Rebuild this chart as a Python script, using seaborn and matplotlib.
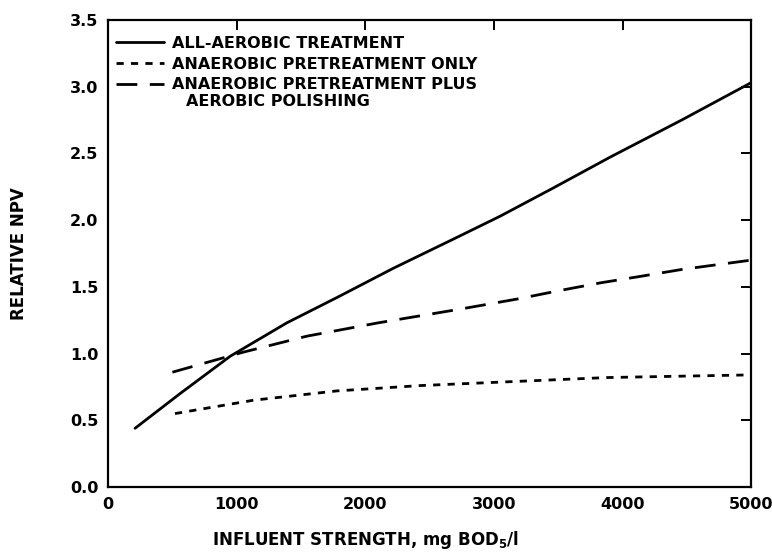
import pandas as pd
import seaborn as sns
import matplotlib.pyplot as plt

sns.set_theme(style="white")
plt.rcParams["font.family"] = ["DejaVu Sans"]
plt.rcParams["font.weight"] = "bold"
for key in ["text.color", "axes.labelcolor", "xtick.color", "ytick.color"]:
    plt.rcParams[key] = "black"

# values
aerobic_x = [210, 560, 950, 1390, 1780, 2220, 2690, 3050, 3460, 3900, 4460, 5000]
aerobic_y = [0.44, 0.70, 0.98, 1.23, 1.42, 1.64, 1.86, 2.03, 2.24, 2.47, 2.75, 3.03]

pre_only_x = [520, 1130, 1780, 2430, 3150, 3880, 5000]
pre_only_y = [0.55, 0.65, 0.72, 0.76, 0.79, 0.82, 0.84]

pre_polish_x = [500, 1050, 1545, 2100, 2720, 3190, 3500, 3830, 4150, 4460, 5000]
pre_polish_y = [0.86, 1.01, 1.13, 1.23, 1.33, 1.41, 1.47, 1.53, 1.58, 1.63, 1.70]

x_ticks = [0, 1000, 2000, 3000, 4000, 5000]
y_ticks = [0.0, 0.5, 1.0, 1.5, 2.0, 2.5, 3.0, 3.5]

df_aer = pd.DataFrame({"x": aerobic_x, "y": aerobic_y})
df_pre = pd.DataFrame({"x": pre_only_x, "y": pre_only_y})
df_pol = pd.DataFrame({"x": pre_polish_x, "y": pre_polish_y})

fig, ax = plt.subplots(figsize=(7.72, 5.54), dpi=100)
fig.subplots_adjust(left=0.14, right=0.973, bottom=0.121, top=0.964)

sns.lineplot(data=df_aer, x="x", y="y", ax=ax, color="black", linewidth=2,
             label="ALL-AEROBIC TREATMENT")
sns.lineplot(data=df_pre, x="x", y="y", ax=ax, color="black", linewidth=2,
             linestyle=(0, (2.6, 2.6)), label="ANAEROBIC PRETREATMENT ONLY")
sns.lineplot(data=df_pol, x="x", y="y", ax=ax, color="black", linewidth=2,
             linestyle=(0, (7.5, 4.5)), label="ANAEROBIC PRETREATMENT PLUS")

ax.set_xlim(0, 5000)
ax.set_ylim(0, 3.5)
ax.set_xticks(x_ticks)
ax.set_yticks(y_ticks)
ax.set_yticklabels([f"{v:.1f}" for v in y_ticks])
ax.tick_params(direction="in", length=7, width=1.4, top=True, right=True,
               labeltop=False, labelright=False, labelsize=11.5, pad=7,
               color="black", labelcolor="black")
for lab in ax.get_xticklabels() + ax.get_yticklabels():
    lab.set_fontweight("bold")
for sp in ax.spines.values():
    sp.set_linewidth(1.6)
    sp.set_color("black")

ax.set_xlabel(r"INFLUENT STRENGTH, mg BOD$_\mathbf{5}$/l", fontsize=12,
              fontweight="bold")
ax.set_ylabel("RELATIVE NPV", fontsize=12, fontweight="bold")
ax.xaxis.set_label_coords(0.40, -0.09)
ax.yaxis.set_label_coords(-0.124, 0.5)

leg = ax.legend(loc="upper left", bbox_to_anchor=(0.012, 0.966), frameon=False,
                fontsize=11.5, handlelength=3.0, handletextpad=0.55,
                labelspacing=0.36, borderpad=0, borderaxespad=0)
for t in leg.get_texts():
    t.set_fontweight("bold")
    t.set_color("black")
ax.text(0.121, 0.826, "AEROBIC POLISHING", transform=ax.transAxes,
        fontsize=11.5, fontweight="bold", va="center", ha="left")

fig.savefig("out.png", dpi=100)
